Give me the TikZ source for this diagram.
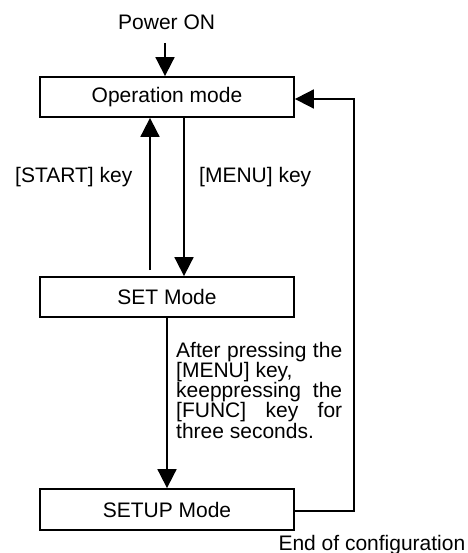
\documentclass[tikz,border=0pt]{standalone}
\usepackage{fontspec}
\setmainfont{Liberation Sans}
\usetikzlibrary{arrows.meta}
\tikzset{
  modebox/.style={draw, line width=1.8pt, minimum width=254pt, minimum height=40pt, inner sep=0pt},
  flow/.style={line width=1.8pt, -{Triangle[length=19pt,width=19pt]}},
  lbl/.style={inner sep=0pt, anchor=base west},
}
\begin{document}
\begin{tikzpicture}[x=1pt,y=-1pt,every node/.style={font=\fontsize{21}{24}\selectfont}]
\useasboundingbox (0,0) rectangle (467,553);

% mode boxes
\node[modebox] (op) at (167,97) {Operation mode};
\node[modebox] (set) at (167,297) {SET Mode};
\node[modebox, minimum height=41pt] (setup) at (167,509.5) {SETUP Mode};

% labels
\node[lbl] (pwr) at (118,30) {Power ON};
\node[lbl] (startk) at (15,182.7) {[START] key};
\node[lbl] (menuk) at (199,182.7) {[MENU] key};
\node[lbl] (hold) at (176,357) {\vtop{\hsize=166pt\parindent=0pt\baselineskip=20.3pt
  \hbox to\hsize{After pressing the}
  \hbox{[MENU] key,}
  \hbox to\hsize{keeppressing the}
  \hbox to\hsize{[FUNC] key for}
  \hbox{three seconds.}}};
\node[lbl] (endc) at (278.3,550) {End of configuration};

% connector anchor points
\coordinate (pwtop) at (165,43);
\coordinate (sttail) at (150,270);
\coordinate (mnx) at (184,0);
\coordinate (sux) at (167,0);
\coordinate (fblow) at (354,511);
\coordinate (fbhigh) at (354,99);

% connectors
\draw[flow] (pwtop) -- (pwtop |- op.north);
\draw[flow] (sttail) -- (sttail |- op.south);
\draw[flow] (mnx |- op.south) -- (mnx |- set.north);
\draw[flow] (sux |- set.south) -- (sux |- setup.north);
\draw[flow] (setup.east |- fblow) -- (fblow) -- (fbhigh) -- (op.east |- fbhigh);
\end{tikzpicture}
\end{document}
